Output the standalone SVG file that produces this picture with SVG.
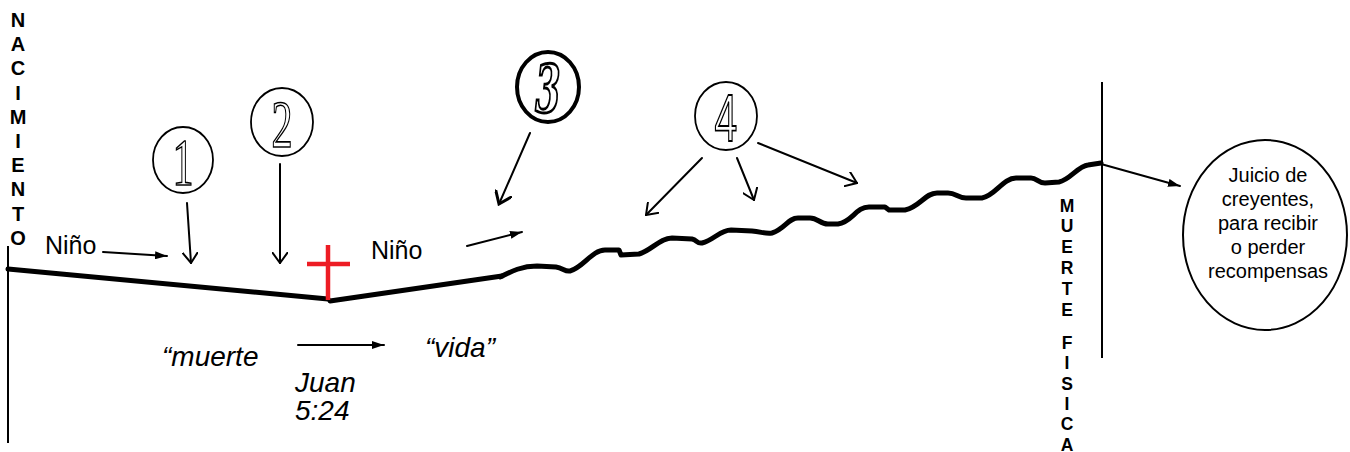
<svg xmlns="http://www.w3.org/2000/svg" width="1350" height="452" viewBox="0 0 1350 452">
<style>
.t{font-family:"Liberation Sans",Arial,sans-serif;fill:#000}
.b{font-family:"Liberation Sans",Arial,sans-serif;font-weight:bold;font-size:20px;text-anchor:middle}
.b2{font-family:"Liberation Sans",Arial,sans-serif;font-weight:bold;font-size:17.5px;text-anchor:middle}
.i{font-family:"Liberation Sans",Arial,sans-serif;font-style:italic;font-size:28px}
.ln{fill:none;stroke:#000;stroke-width:2;stroke-linecap:round}
.thick{fill:none;stroke:#000;stroke-width:5;stroke-linejoin:round;stroke-linecap:round}
.num{font-family:"Liberation Serif","Times New Roman",serif;font-size:68px;text-anchor:middle;fill:#fff;stroke:#000;stroke-width:1.6}
</style>
<defs>
<marker id="open" viewBox="0 0 12 16" refX="11" refY="8" markerWidth="12" markerHeight="16" markerUnits="userSpaceOnUse" orient="auto">
<path d="M0,0 L11,8 L0,16" fill="none" stroke="#000" stroke-width="2"/>
</marker>
<marker id="openb" viewBox="0 0 14 18" refX="12" refY="9" markerWidth="14" markerHeight="18" markerUnits="userSpaceOnUse" orient="auto">
<path d="M0,0 L12,9 L0,18" fill="none" stroke="#000" stroke-width="3"/>
</marker>
<marker id="fill" viewBox="0 0 12 8" refX="12" refY="4" markerWidth="12" markerHeight="8" markerUnits="userSpaceOnUse" orient="auto">
<path d="M0,0 L12,4 L0,8 z" fill="#000"/>
</marker>
</defs>
<rect width="1350" height="452" fill="#fff"/>

<g id="nacimiento">
<line x1="8" y1="246" x2="8" y2="443" stroke="#000" stroke-width="2"/>
<text class="b"><tspan x="18" y="27">N</tspan><tspan x="18" y="51">A</tspan><tspan x="18" y="75">C</tspan><tspan x="18" y="100">I</tspan><tspan x="18" y="124">M</tspan><tspan x="18" y="148">I</tspan><tspan x="18" y="172">E</tspan><tspan x="18" y="196">N</tspan><tspan x="18" y="221">T</tspan><tspan x="18" y="245">O</tspan></text>
</g>

<g id="muerte-fisica">
<line x1="1102" y1="82" x2="1102" y2="358" stroke="#000" stroke-width="2"/>
<text class="b2"><tspan x="1067" y="212">M</tspan><tspan x="1067" y="232">U</tspan><tspan x="1067" y="253">E</tspan><tspan x="1067" y="274">R</tspan><tspan x="1067" y="295">T</tspan><tspan x="1067" y="316">E</tspan><tspan x="1067" y="349">F</tspan><tspan x="1067" y="369">I</tspan><tspan x="1067" y="390">S</tspan><tspan x="1067" y="410">I</tspan><tspan x="1067" y="430">C</tspan><tspan x="1067" y="451">A</tspan></text>
</g>

<g id="lifeline">
<polyline class="thick" points="8,269 328,299"/>
<polyline class="thick" points="330,301 502,276"/>
<path class="thick" d="M500,277 C512,271 522,266 537,266 L556,267 C563,268 565,272 570,271 C583,268 592,250 605,250 L619,250 L621,255 L639,254 C652,250 660,238 672,238 L692,239 C697,240 697,244 702,243 C714,240 720,230 731,230 L752,231 C762,232 766,234 772,233 C785,229 788,218 798,218 L810,218 C818,218 820,224 828,224 L838,224 C852,222 856,207 869,207 L885,207 L889,210 L905,210 C920,207 925,193 937,193 L948,193 C956,193 958,198 966,198 L982,198 C995,196 1003,178 1016,178 L1031,178 C1037,178 1038,183 1045,183 L1059,182 C1070,180 1078,166 1088,165 L1101,163"/>
</g>

<g id="cruz">
<line x1="328" y1="245" x2="328" y2="300" stroke="#ed1c24" stroke-width="4.5"/>
<line x1="307" y1="264" x2="350" y2="264" stroke="#ed1c24" stroke-width="4.5"/>
</g>

<g id="c1">
<ellipse cx="183" cy="160" rx="30" ry="33" fill="#fff" stroke="#000" stroke-width="1.8"/>
<text class="num" x="183" y="185" transform="translate(183 0) scale(0.62 1) translate(-183 0)">1</text>
</g>
<g id="c2">
<ellipse cx="282" cy="122" rx="31" ry="34" fill="#fff" stroke="#000" stroke-width="1.8"/>
<text class="num" x="282" y="147" transform="translate(282 0) scale(0.62 1) translate(-282 0)">2</text>
</g>
<g id="c3">
<ellipse cx="548" cy="87" rx="31" ry="35" fill="#fff" stroke="#000" stroke-width="4"/>
<text x="548" y="112" transform="translate(548 0) scale(0.55 1) translate(-548 0)" style="font-family:'DejaVu Serif',serif;font-size:66px;font-style:italic;font-weight:bold;text-anchor:middle;fill:#fff;stroke:#000;stroke-width:3">3</text>
</g>
<g id="c4">
<ellipse cx="726" cy="116" rx="31" ry="34" fill="#fff" stroke="#000" stroke-width="1.8"/>
<text x="726" y="141" transform="translate(726 0) scale(0.62 1) translate(-726 0)" style="font-family:'Liberation Sans',Arial,sans-serif;font-size:66px;text-anchor:middle;fill:#fff;stroke:#000;stroke-width:1.8">4</text>
</g>

<g id="nino1"><text class="t" x="45" y="254" font-size="25">Niño</text></g>
<g id="nino2"><text class="t" x="371" y="259" font-size="25">Niño</text></g>

<g id="juicio">
<ellipse cx="1265" cy="235" rx="82" ry="95" fill="#fff" stroke="#000" stroke-width="2"/>
<text class="t" font-size="20" text-anchor="middle" fill="#111"><tspan x="1268" y="182">Juicio de</tspan><tspan x="1268" y="206">creyentes,</tspan><tspan x="1268" y="230">para recibir</tspan><tspan x="1268" y="254">o perder</tspan><tspan x="1268" y="278">recompensas</tspan></text>
</g>

<g id="muerte"><text class="i" x="162" y="366">“muerte</text></g>
<g id="vida"><text class="i" x="425" y="357">“vida”</text></g>
<g id="juan"><text class="i"><tspan x="295" y="392">Juan</tspan><tspan x="295" y="420">5:24</tspan></text></g>

<g id="connectors">
<line class="ln" x1="103" y1="252" x2="167" y2="256" marker-end="url(#fill)"/>
<line class="ln" x1="187" y1="203" x2="191" y2="263" marker-end="url(#open)"/>
<line class="ln" x1="280" y1="164" x2="280" y2="263" marker-end="url(#open)"/>
<line class="ln" x1="530" y1="133" x2="499" y2="204" stroke-width="3" marker-end="url(#openb)"/>
<line class="ln" x1="467" y1="246" x2="522" y2="232" marker-end="url(#fill)"/>
<line class="ln" x1="702" y1="158" x2="646" y2="215" marker-end="url(#open)"/>
<line class="ln" x1="737" y1="158" x2="754" y2="200" marker-end="url(#open)"/>
<line class="ln" x1="758" y1="143" x2="857" y2="183" marker-end="url(#open)"/>
<line class="ln" x1="1101" y1="164" x2="1180" y2="186" marker-end="url(#fill)"/>
<line class="ln" x1="298" y1="345" x2="384" y2="345" marker-end="url(#fill)"/>
</g>
</svg>
